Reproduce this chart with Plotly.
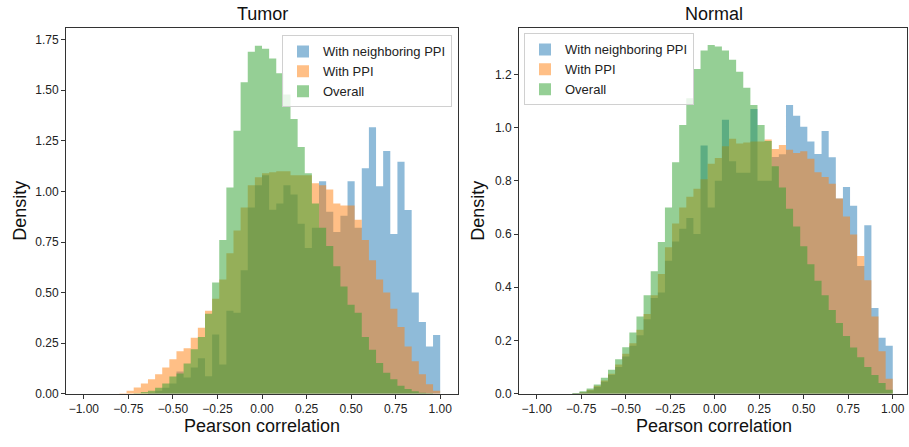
import numpy as np
import plotly.graph_objects as go

# Histogram bins: 50 equal bins over the Pearson correlation range [-1, 1]
bin_edges = np.linspace(-1.0, 1.0, 51)

series_names = ["With neighboring PPI", "With PPI", "Overall"]
series_fills = ["rgba(31,119,180,0.5)", "rgba(255,127,14,0.5)", "rgba(44,160,44,0.5)"]

# Tumor densities per bin
tumor_neighbor = [
    0, 0, 0, 0, 0, 0, 0, 0, 0, 0.005,
    0.015, 0.03, 0.05, 0.11, 0.08, 0.13, 0.176, 0.087, 0.293, 0.144,
    0.41, 0.40, 0.61, 0.92, 1.03, 1.08, 0.91, 0.94, 1.03, 0.985,
    0.84, 0.72, 0.82, 1.05, 0.90, 0.80, 0.88, 1.05, 0.82, 1.115,
    1.317, 1.026, 1.20, 0.79, 1.147, 0.908, 0.50, 0.354, 0.233, 0.29,
]
tumor_ppi = [
    0, 0, 0, 0, 0, 0.002, 0.015, 0.031, 0.05, 0.072,
    0.096, 0.13, 0.17, 0.21, 0.225, 0.277, 0.326, 0.41, 0.47, 0.565,
    0.694, 0.807, 0.92, 1.03, 1.07, 1.09, 1.095, 1.10, 1.10, 1.08,
    1.08, 1.08, 1.04, 1.03, 1.01, 0.94, 0.93, 0.93, 0.86, 0.76,
    0.66, 0.565, 0.50, 0.42, 0.33, 0.233, 0.16, 0.096, 0.047, 0.015,
]
tumor_overall = [
    0, 0, 0, 0, 0, 0, 0, 0.003, 0.008, 0.015,
    0.03, 0.05, 0.085, 0.10, 0.15, 0.22, 0.28, 0.395, 0.55, 0.76,
    1.02, 1.30, 1.54, 1.69, 1.72, 1.705, 1.657, 1.584, 1.479, 1.358,
    1.22, 1.09, 0.94, 0.82, 0.73, 0.63, 0.53, 0.44, 0.40, 0.28,
    0.217, 0.152, 0.104, 0.071, 0.039, 0.023, 0.012, 0.005, 0.002, 0,
]

# Normal densities per bin
normal_neighbor = [
    0, 0, 0, 0, 0, 0.003, 0.005, 0.012, 0.025, 0.045,
    0.07, 0.10, 0.14, 0.18, 0.22, 0.28, 0.36, 0.38, 0.50, 0.572,
    0.62, 0.66, 0.60, 0.933, 0.70, 0.80, 1.03, 0.874, 0.83, 0.83,
    1.07, 0.80, 0.80, 0.89, 0.90, 1.085, 1.045, 1.003, 0.948, 0.901,
    0.987, 0.889, 0.734, 0.777, 0.706, 0.48, 0.633, 0.322, 0.21, 0.18,
]
normal_ppi = [
    0, 0, 0, 0, 0, 0.002, 0.006, 0.015, 0.03, 0.05,
    0.075, 0.11, 0.15, 0.19, 0.24, 0.30, 0.37, 0.45, 0.55, 0.64,
    0.70, 0.74, 0.77, 0.806, 0.864, 0.886, 0.93, 0.958, 0.94, 0.944,
    0.948, 0.948, 0.955, 0.92, 0.935, 0.917, 0.905, 0.911, 0.883, 0.832,
    0.814, 0.789, 0.734, 0.666, 0.598, 0.518, 0.426, 0.29, 0.16, 0.056,
]
normal_overall = [
    0, 0, 0, 0, 0, 0.003, 0.009, 0.02, 0.035, 0.06,
    0.09, 0.13, 0.175, 0.23, 0.29, 0.37, 0.46, 0.57, 0.70, 0.87,
    1.01, 1.11, 1.22, 1.29, 1.31, 1.305, 1.29, 1.255, 1.21, 1.15,
    1.085, 1.01, 0.95, 0.855, 0.775, 0.695, 0.628, 0.554, 0.487, 0.425,
    0.37, 0.315, 0.266, 0.217, 0.174, 0.137, 0.10, 0.07, 0.04, 0.015,
]

x_tick_vals = [-1.0, -0.75, -0.5, -0.25, 0.0, 0.25, 0.5, 0.75, 1.0]
x_tick_text = ["−1.00", "−0.75", "−0.50", "−0.25", "0.00", "0.25", "0.50", "0.75", "1.00"]
tumor_y_ticks = [0, 0.25, 0.5, 0.75, 1.0, 1.25, 1.5, 1.75]
tumor_y_text = ["0.00", "0.25", "0.50", "0.75", "1.00", "1.25", "1.50", "1.75"]
normal_y_ticks = [0, 0.2, 0.4, 0.6, 0.8, 1.0, 1.2]
normal_y_text = ["0.0", "0.2", "0.4", "0.6", "0.8", "1.0", "1.2"]

FONT = "Liberation Sans, Arial, sans-serif"
W, H = 909, 447

fig = go.Figure()

# Each histogram is one filled step outline (bin edges -> heights), so
# adjacent bins join without seams and the translucent fills stack.
# A data-less bar trace per series supplies the block-shaped legend key.
panels = [
    ("x", "y", "legend", [tumor_neighbor, tumor_ppi, tumor_overall]),
    ("x2", "y2", "legend2", [normal_neighbor, normal_ppi, normal_overall]),
]
for xa, ya, leg, values in panels:
    for name, fill, dens in zip(series_names, series_fills, values):
        heights = list(dens) + [dens[-1]]
        fig.add_trace(go.Scatter(
            x=bin_edges, y=heights,
            mode="lines", line=dict(shape="hv", width=0, color=fill),
            fill="tozeroy", fillcolor=fill,
            name=name, legend=leg, legendgroup=leg + name, showlegend=False,
            xaxis=xa, yaxis=ya, hoverinfo="skip",
        ))
        fig.add_trace(go.Bar(
            x=[None], y=[None], name=name,
            marker=dict(color=fill, line=dict(width=0)),
            legend=leg, legendgroup=leg + name, showlegend=True,
            xaxis=xa, yaxis=ya,
        ))

def px_x(p):
    return p / W

def px_y(p):
    return 1 - p / H

axis_common = dict(
    showline=True, linecolor="#333", linewidth=1, mirror=True,
    ticks="outside", ticklen=4, tickwidth=1, tickcolor="#333",
    showgrid=False, zeroline=False,
    tickfont=dict(family=FONT, size=12, color="#222"),
)

legend_common = dict(
    yanchor="top",
    bgcolor="rgba(255,255,255,0.8)", bordercolor="#d0d0d0", borderwidth=1,
    font=dict(family=FONT, size=13, color="#222"),
    tracegroupgap=0, itemwidth=30,
)

fig.update_layout(
    width=W, height=H,
    margin=dict(l=0, r=0, t=0, b=0),
    paper_bgcolor="white", plot_bgcolor="white",
    showlegend=True, barmode="overlay",
    xaxis=dict(domain=[px_x(66), px_x(458)], range=[-1.1, 1.1],
               tickvals=x_tick_vals, ticktext=x_tick_text, anchor="y", **axis_common),
    yaxis=dict(domain=[px_y(400), px_y(28)], range=[0, 1.81],
               tickvals=tumor_y_ticks, ticktext=tumor_y_text, anchor="x", **axis_common),
    xaxis2=dict(domain=[px_x(519), px_x(907)], range=[-1.1, 1.08],
                tickvals=x_tick_vals, ticktext=x_tick_text, anchor="y2", **axis_common),
    yaxis2=dict(domain=[px_y(400), px_y(28)], range=[0, 1.376],
                tickvals=normal_y_ticks, ticktext=normal_y_text, anchor="x2", **axis_common),
    legend=dict(x=px_x(452), y=px_y(36), xanchor="right", **legend_common),
    legend2=dict(x=px_x(524), y=px_y(34), xanchor="left", **legend_common),
)

label_font = dict(family=FONT, size=18, color="#111")
title_font = dict(family=FONT, size=18, color="#111")
annotations = [
    dict(text="Tumor", x=px_x(262), y=px_y(14), font=title_font),
    dict(text="Normal", x=px_x(714), y=px_y(14), font=title_font),
    dict(text="Pearson correlation", x=px_x(262), y=px_y(433), font=label_font),
    dict(text="Pearson correlation", x=px_x(714), y=px_y(433), font=label_font),
    dict(text="Density", x=px_x(20), y=px_y(214), font=label_font, textangle=-90),
    dict(text="Density", x=px_x(478), y=px_y(214), font=label_font, textangle=-90),
]
for a in annotations:
    a.update(xref="paper", yref="paper", showarrow=False,
             xanchor="center", yanchor="middle")
fig.update_layout(annotations=annotations)

fig.write_html("out.html")
